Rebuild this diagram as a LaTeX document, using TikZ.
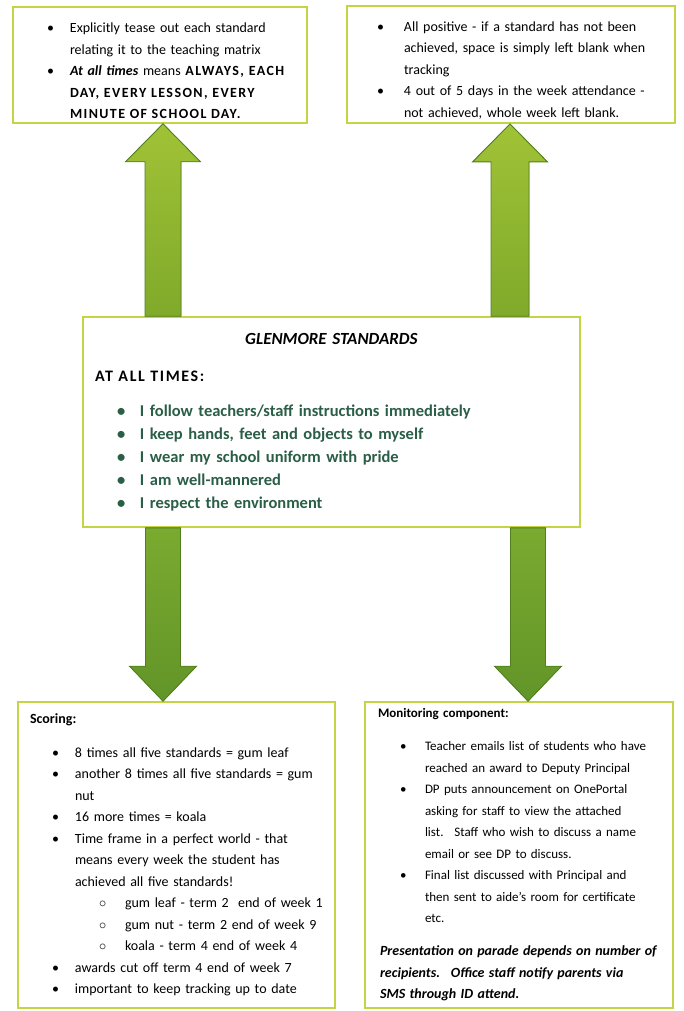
\documentclass[tikz,border=0pt]{standalone}
\usepackage{fontspec}
\setmainfont{Carlito}
\usetikzlibrary{calc}

\definecolor{boxline}{HTML}{C3D545}
\definecolor{arrowedge}{HTML}{527F1D}
\definecolor{uplight}{HTML}{A0C236}
\definecolor{updark}{HTML}{80AA2B}
\definecolor{downlight}{HTML}{7BAA30}
\definecolor{downdark}{HTML}{629528}
\definecolor{rulegreen}{HTML}{2B5E47}

% bullet line: indent, gap, text
\newcommand{\bitem}[3]{\par\hangindent=\dimexpr#1+#2\relax\hangafter=1\noindent\hspace*{#1}\makebox[#2][l]{\textbullet}#3}
\newcommand{\citem}[3]{\par\hangindent=\dimexpr#1+#2\relax\hangafter=1\noindent\hspace*{#1}\makebox[#2][l]{$\circ$}#3}
\newcommand{\widecaps}[1]{{\addfontfeature{LetterSpace=10}#1}}
% block arrow: style, tail, tip, half shaft, half head, head length
\newcommand{\fatarrow}[6]{\filldraw[#1] ($(#2)+(-#4,0)$) -- ($(#3)+(-#4,#6)$) -- ($(#3)+(-#5,#6)$) -- (#3) -- ($(#3)+(#5,#6)$) -- ($(#3)+(#4,#6)$) -- ($(#2)+(#4,0)$) -- cycle;}

\tikzset{
  panel/.style={draw=boxline, line width=1.6pt, fill=white, inner xsep=0pt, inner ysep=4pt,
    align=left, font=\fontsize{14}{21.5}\selectfont},
  uparrow/.style={draw=arrowedge, line width=0.9pt, top color=uplight, bottom color=updark},
  downarrow/.style={draw=arrowedge, line width=0.9pt, top color=downlight, bottom color=downdark}
}

\begin{document}
\begin{tikzpicture}[x=1pt,y=-1pt]
\useasboundingbox (0,0) rectangle (684,1011);

\coordinate (ul) at (163,0);
\coordinate (ur) at (510,0);
\coordinate (dl) at (163,0);
\coordinate (dr) at (528,0);

\node[panel, text width=294pt, minimum height=116pt] (tl) at (160,65) {%
\bitem{34pt}{23pt}{Explicitly tease out each standard\newline relating it to the teaching matrix}%
\bitem{34pt}{23pt}{\textbf{\textit{At all times}} means \textbf{\widecaps{ALWAYS, EACH\newline DAY, EVERY LESSON, EVERY\newline MINUTE OF SCHOOL DAY.}}}\par};

\node[panel, text width=328pt, minimum height=117pt] (tr) at (511,64.5) {%
\bitem{30pt}{27pt}{All positive - if a standard has not been\newline achieved, space is simply left blank when\newline tracking}%
\bitem{30pt}{27pt}{4 out of 5 days in the week attendance -\newline not achieved, whole week left blank.}\par};

\node[panel, text width=497pt, minimum height=210pt, font=\fontsize{16.5}{23}\selectfont\bfseries] (mid) at (331.5,422) {%
\noindent\makebox[\linewidth][c]{\fontsize{17}{23}\selectfont\textit{GLENMORE STANDARDS}}\par\vspace{14pt}%
\noindent\hspace*{12pt}{\fontsize{16}{23}\selectfont\widecaps{AT ALL TIMES:}}\par\vspace{12pt}%
\color{rulegreen}%
\bitem{34pt}{23pt}{I follow teachers/staff instructions immediately}%
\bitem{34pt}{23pt}{I keep hands, feet and objects to myself}%
\bitem{34pt}{23pt}{I wear my school uniform with pride}%
\bitem{34pt}{23pt}{I am well-mannered}%
\bitem{34pt}{23pt}{I respect the environment}\par};

\node[panel, text width=317pt, minimum height=306pt] (bl) at (176.5,855) {%
\noindent\hspace*{12pt}\textbf{Scoring:}\par\vspace{12.5pt}%
\bitem{34pt}{23pt}{8 times all five standards = gum leaf}%
\bitem{34pt}{23pt}{another 8 times all five standards = gum\newline nut}%
\bitem{34pt}{23pt}{16 more times = koala}%
\bitem{34pt}{23pt}{Time frame in a perfect world - that\newline means every week the student has\newline achieved all five standards!}%
\citem{81pt}{26pt}{gum leaf - term 2~ end of week 1}%
\citem{81pt}{26pt}{gum nut - term 2 end of week 9}%
\citem{81pt}{26pt}{koala - term 4 end of week 4}%
\bitem{34pt}{23pt}{awards cut off term 4 end of week 7}%
\bitem{34pt}{23pt}{important to keep tracking up to date}\par};

\node[panel, text width=308pt, minimum height=306pt, font=\fontsize{13}{21.5}\selectfont] (br) at (519,855) {%
\noindent\hspace*{13pt}\textbf{Monitoring component:}\par\vspace{11.5pt}%
\bitem{35pt}{25pt}{Teacher emails list of students who have\newline reached an award to Deputy Principal}%
\bitem{35pt}{25pt}{DP puts announcement on OnePortal\newline asking for staff to view the attached\newline list.~ Staff who wish to discuss a name\newline email or see DP to discuss.}%
\bitem{35pt}{25pt}{Final list discussed with Principal and\newline then sent to aide's room for certificate\newline etc.}%
\par\vspace{11.5pt}%
\noindent\hspace*{15pt}{\fontsize{14}{21.5}\selectfont\bfseries\itshape Presentation on parade depends on number of\newline\hspace*{15pt}recipients.~ Office staff notify parents via\newline\hspace*{15pt}SMS through ID attend.}\par};

% arrows from the standards box out to the notes
\fatarrow{uparrow}{mid.north -| ul}{tl.south -| ul}{18}{37.5}{38}
\fatarrow{uparrow}{mid.north -| ur}{tr.south -| ur}{19}{37.5}{38}
\fatarrow{downarrow}{mid.south -| dl}{bl.north -| dl}{17.5}{33.5}{-35}
\fatarrow{downarrow}{mid.south -| dr}{br.north -| dr}{17.5}{33.5}{-35}
\end{tikzpicture}
\end{document}
